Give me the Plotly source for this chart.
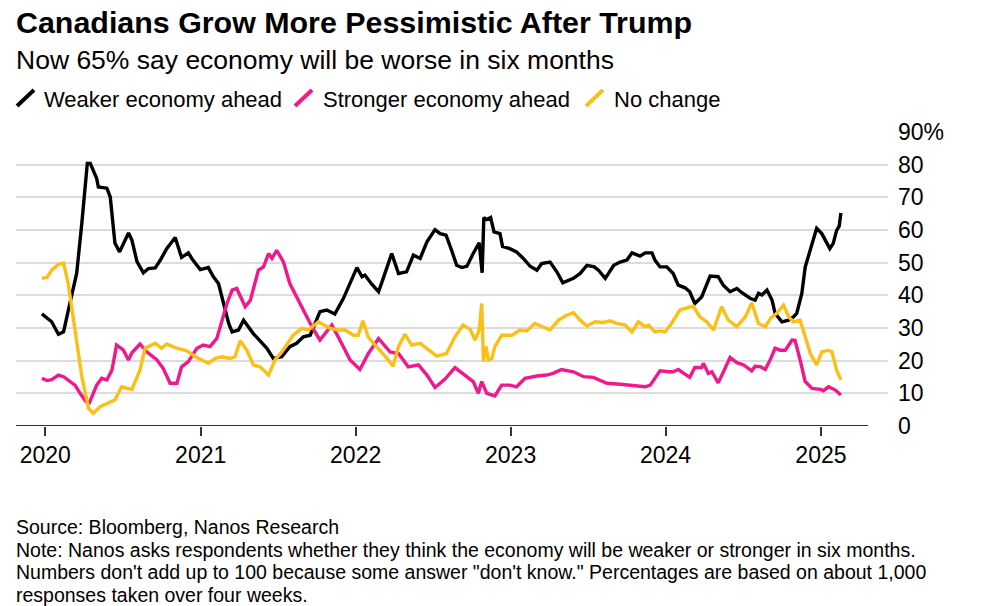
import plotly.graph_objects as go
import pandas as pd

# ---------------- data ----------------
weaker_dates = ["2019-12-24","2020-01-16","2020-02-01","2020-02-13","2020-02-28","2020-03-15","2020-03-27","2020-04-09","2020-04-16","2020-05-01","2020-05-05","2020-05-25","2020-06-02","2020-06-13","2020-06-24","2020-07-15","2020-07-23","2020-08-04","2020-08-19","2020-08-31","2020-09-16","2020-09-28","2020-10-13","2020-11-02","2020-11-17","2020-12-03","2020-12-11","2020-12-31","2021-01-19","2021-01-31","2021-02-12","2021-03-08","2021-03-16","2021-03-31","2021-04-12","2021-05-05","2021-06-06","2021-06-21","2021-07-11","2021-07-30","2021-08-15","2021-08-31","2021-09-16","2021-10-09","2021-10-25","2021-11-13","2021-12-03","2021-12-23","2022-01-04","2022-01-16","2022-01-23","2022-02-08","2022-02-24","2022-03-07","2022-03-27","2022-04-12","2022-05-01","2022-05-17","2022-06-02","2022-06-18","2022-07-07","2022-07-19","2022-08-02","2022-08-15","2022-08-27","2022-09-08","2022-09-20","2022-10-05","2022-10-19","2022-10-26","2022-10-30","2022-11-06","2022-11-15","2022-11-23","2022-12-07","2022-12-13","2022-12-30","2023-01-15","2023-01-31","2023-02-16","2023-03-04","2023-03-15","2023-04-04","2023-04-20","2023-05-04","2023-05-29","2023-06-14","2023-06-30","2023-07-17","2023-07-27","2023-08-12","2023-09-01","2023-09-16","2023-10-02","2023-10-14","2023-11-02","2023-11-14","2023-11-30","2023-12-07","2023-12-19","2024-01-04","2024-01-19","2024-01-31","2024-02-16","2024-02-27","2024-03-10","2024-03-26","2024-04-15","2024-05-04","2024-05-16","2024-06-01","2024-06-17","2024-06-29","2024-07-18","2024-07-30","2024-08-07","2024-08-15","2024-08-27","2024-09-08","2024-09-15","2024-10-01","2024-10-17","2024-10-28","2024-11-05","2024-11-17","2024-11-25","2024-12-11","2024-12-22","2025-01-03","2025-01-22","2025-01-30","2025-02-07","2025-02-13","2025-02-17"]
weaker_values = [34.3,31.9,28.1,28.8,37.6,46.8,62.0,80.4,80.4,75.8,73.2,72.8,70.1,56.0,53.3,59.1,56.9,50.3,46.9,48.2,48.4,50.8,54.3,57.7,51.6,53.0,51.3,47.9,48.5,45.7,43.6,31.4,28.8,29.4,32.4,28.3,23.8,20.7,21.2,24.3,25.3,27.3,27.8,35.0,35.5,34.3,39.0,45.2,48.5,45.7,46.2,43.4,41.1,45.2,52.8,46.7,47.2,52.3,51.3,56.4,60.1,58.9,58.4,53.8,49.2,48.5,48.9,52.8,56.1,46.9,63.8,63.2,63.8,59.4,58.9,55.0,54.3,53.3,51.3,48.9,47.7,49.7,50.2,47.2,43.8,45.2,46.7,49.2,48.7,47.7,45.2,49.2,50.2,50.8,53.0,52.0,53.0,53.0,50.8,48.7,48.7,46.7,43.1,42.3,41.1,37.5,39.5,45.9,45.7,43.1,41.1,42.1,40.8,39.1,38.5,40.6,40.1,41.6,38.5,34.5,31.9,32.4,33.4,34.5,40.6,48.7,55.9,60.5,58.9,54.3,55.9,59.9,61.2,65.2]

stronger_dates = ["2019-12-24","2020-01-05","2020-01-16","2020-02-01","2020-02-13","2020-02-28","2020-03-11","2020-03-23","2020-04-06","2020-04-14","2020-05-01","2020-05-13","2020-05-25","2020-06-06","2020-06-17","2020-07-03","2020-07-15","2020-07-23","2020-08-11","2020-08-27","2020-09-20","2020-10-05","2020-10-21","2020-11-06","2020-11-17","2020-12-03","2020-12-23","2021-01-07","2021-01-23","2021-02-08","2021-03-04","2021-03-16","2021-03-27","2021-04-16","2021-04-28","2021-05-17","2021-05-29","2021-06-10","2021-06-18","2021-06-29","2021-07-15","2021-07-30","2021-08-23","2021-09-20","2021-10-09","2021-11-06","2021-11-25","2021-12-19","2022-01-11","2022-01-31","2022-02-24","2022-03-23","2022-04-12","2022-05-05","2022-05-29","2022-06-18","2022-07-07","2022-07-30","2022-08-23","2022-09-11","2022-10-05","2022-10-17","2022-10-25","2022-11-06","2022-11-25","2022-12-11","2022-12-30","2023-01-15","2023-02-04","2023-03-04","2023-03-27","2023-04-11","2023-05-01","2023-05-29","2023-06-22","2023-07-15","2023-08-16","2023-09-16","2023-10-18","2023-11-14","2023-11-26","2023-12-07","2023-12-19","2024-01-08","2024-01-19","2024-01-31","2024-02-12","2024-02-27","2024-03-10","2024-03-26","2024-03-30","2024-04-11","2024-04-19","2024-05-04","2024-05-20","2024-06-01","2024-06-17","2024-07-03","2024-07-22","2024-07-30","2024-08-11","2024-08-23","2024-09-04","2024-09-15","2024-09-27","2024-10-09","2024-10-25","2024-11-01","2024-11-13","2024-11-25","2024-12-11","2024-12-31","2025-01-07","2025-01-19","2025-02-04","2025-02-17"]
stronger_values = [14.6,13.9,14.2,15.6,15.1,13.6,12.5,10.0,7.4,7.1,12.5,14.6,14.1,17.1,24.8,23.2,20.2,22.4,25.1,22.7,20.2,17.6,13.1,13.1,18.1,19.7,23.8,24.8,24.3,26.8,37.5,41.6,42.1,36.5,38.5,47.7,48.7,52.8,51.3,53.8,50.2,43.6,37.5,30.4,26.3,30.9,26.3,20.2,17.3,22.2,26.8,22.7,22.2,18.1,18.7,15.6,11.8,14.3,17.9,16.1,13.6,10.0,13.6,10.0,9.2,12.5,12.5,12.0,14.6,15.3,15.6,16.1,17.3,16.6,15.1,14.9,13.1,12.8,12.5,12.0,12.5,14.6,16.9,16.6,16.6,17.3,16.1,14.9,17.9,17.9,19.2,16.1,16.6,13.2,17.6,21.0,19.4,18.7,16.9,18.3,18.2,17.3,20.4,23.8,23.2,23.2,26.3,26.2,20.2,13.6,11.5,11.2,10.8,12.0,11.0,9.5]

nochange_dates = ["2019-12-24","2020-01-05","2020-01-16","2020-02-01","2020-02-13","2020-02-24","2020-03-11","2020-03-27","2020-04-12","2020-04-23","2020-05-09","2020-05-25","2020-06-13","2020-06-29","2020-07-23","2020-08-11","2020-08-23","2020-09-16","2020-10-01","2020-10-13","2020-11-06","2020-11-29","2020-12-23","2021-01-19","2021-02-04","2021-02-20","2021-03-11","2021-03-23","2021-04-04","2021-04-20","2021-05-05","2021-05-21","2021-06-10","2021-06-25","2021-07-11","2021-08-07","2021-08-27","2021-09-12","2021-10-05","2021-11-02","2021-11-21","2021-12-07","2021-12-27","2022-01-07","2022-01-18","2022-01-31","2022-02-24","2022-03-16","2022-03-30","2022-04-12","2022-04-27","2022-05-13","2022-06-02","2022-06-22","2022-07-11","2022-08-03","2022-08-23","2022-09-11","2022-09-28","2022-10-09","2022-10-19","2022-10-25","2022-10-29","2022-11-04","2022-11-10","2022-11-18","2022-11-25","2022-12-11","2023-01-04","2023-01-23","2023-02-08","2023-02-27","2023-03-19","2023-04-04","2023-04-24","2023-05-13","2023-05-29","2023-06-14","2023-06-30","2023-07-19","2023-08-08","2023-08-23","2023-09-08","2023-09-28","2023-10-14","2023-10-29","2023-11-14","2023-11-22","2023-12-07","2023-12-19","2023-12-31","2024-01-15","2024-02-04","2024-02-20","2024-03-06","2024-03-22","2024-04-07","2024-04-23","2024-05-12","2024-05-28","2024-06-17","2024-07-07","2024-07-22","2024-08-07","2024-08-23","2024-09-04","2024-09-19","2024-10-05","2024-10-17","2024-10-28","2024-11-13","2024-11-25","2024-12-07","2024-12-22","2025-01-03","2025-01-19","2025-01-27","2025-02-07","2025-02-17"]
nochange_values = [45.2,45.5,47.7,49.5,49.9,43.6,29.4,15.1,5.4,3.9,5.9,6.9,8.0,12.0,11.2,17.1,23.8,25.3,23.8,25.1,23.8,23.0,21.0,19.2,20.7,21.2,20.7,21.2,26.1,23.2,18.7,18.1,15.6,20.2,22.7,27.8,29.9,29.4,31.9,29.9,29.4,29.4,27.8,27.8,32.2,27.1,23.8,20.7,18.3,24.3,28.1,24.8,25.3,23.2,21.4,22.2,27.3,30.9,29.6,26.3,29.4,37.5,19.7,24.3,20.2,20.7,24.3,27.8,27.8,29.4,29.1,31.4,30.4,29.4,32.4,33.9,34.7,32.4,30.6,31.9,31.7,32.2,31.4,30.9,28.8,31.9,30.4,30.9,28.8,29.1,28.8,31.4,35.5,36.0,36.7,33.4,31.9,29.4,36.5,32.4,30.4,33.4,37.7,31.4,30.4,32.9,34.5,37.0,33.4,31.9,32.4,27.3,22.2,18.7,22.7,23.2,22.7,17.1,14.1]

series_names = ["Weaker economy ahead", "Stronger economy ahead", "No change"]
series_colors = ["#000000", "#f0188c", "#fbbf16"]

year_ticks = ["2020-01-01", "2021-01-01", "2022-01-01", "2023-01-01", "2024-01-01", "2025-01-01"]
year_labels = ["2020", "2021", "2022", "2023", "2024", "2025"]
y_ticks = [0, 10, 20, 30, 40, 50, 60, 70, 80, 90]
y_labels = ["0", "10", "20", "30", "40", "50", "60", "70", "80", "90%"]

title = "Canadians Grow More Pessimistic After Trump"
subtitle = "Now 65% say economy will be worse in six months"
footnote_lines = [
    "Source: Bloomberg, Nanos Research",
    "Note: Nanos asks respondents whether they think the economy will be weaker or stronger in six months.",
    "Numbers don't add up to 100 because some answer \"don't know.\" Percentages are based on about 1,000",
    "responses taken over four weeks.",
]

# ---------------- layout geometry (pixels) ----------------
W, H = 986, 606
L, R, T, B = 16, 888, 132, 426
FONT = "Liberation Sans, Arial, Helvetica, sans-serif"

def px(x):
    return (x - L) / (R - L)

def py(y):
    return (B - y) / (B - T)

fig = go.Figure()
for d, v, n, c in zip([weaker_dates, stronger_dates, nochange_dates],
                      [weaker_values, stronger_values, nochange_values],
                      series_names, series_colors):
    fig.add_trace(go.Scatter(x=pd.to_datetime(d), y=v, name=n, mode="lines",
                             line=dict(color=c, width=3.4), showlegend=False))

fig.update_layout(
    width=W, height=H,
    margin=dict(l=L, r=W - R, t=T, b=H - B, pad=0),
    paper_bgcolor="white", plot_bgcolor="white",
    font=dict(family=FONT, color="#000000"),
    xaxis=dict(type="date", range=["2019-10-24", "2025-06-08"],
               tickvals=year_ticks, ticktext=year_labels,
               ticks="outside", ticklen=9, tickwidth=1.5, tickcolor="#333333",
               showgrid=False, zeroline=False, showline=False,
               tickfont=dict(size=23, color="#000000"), ticklabelstandoff=-1),
    yaxis=dict(range=[0, 90], side="right", tickvals=y_ticks, ticktext=y_labels,
               showgrid=True, gridcolor="#dcdcdc", gridwidth=1.5,
               zeroline=False, showline=False, ticks="",
               tickfont=dict(size=23, color="#000000"), ticklabelstandoff=9),
)

# x-axis baseline (stops short of the right edge, as in the original)
fig.add_shape(type="line", xref="paper", yref="y", x0=0, x1=px(868), y0=0, y1=0,
              line=dict(color="#333333", width=1.8), layer="above")
fig.add_shape(type="line", xref="paper", yref="y", x0=px(868.5), x1=px(879.5), y0=0, y1=0,
              line=dict(color="white", width=3), layer="above")

# title / subtitle
fig.add_annotation(text="<b>" + title + "</b>", xref="paper", yref="paper",
                   x=px(14), y=py(22), xanchor="left", yanchor="middle",
                   showarrow=False, font=dict(size=30.4, family=FONT, color="#000000"))
fig.add_annotation(text=subtitle, xref="paper", yref="paper",
                   x=px(14), y=py(60), xanchor="left", yanchor="middle",
                   showarrow=False, font=dict(size=26.5, family=FONT, color="#000000"))

# legend: slash glyphs + labels
slash_x = [17, 295, 586]
text_x = [42, 321, 612]
for n, c, sx, tx in zip(series_names, series_colors, slash_x, text_x):
    fig.add_shape(type="line", xref="paper", yref="paper",
                  x0=px(sx), x1=px(sx + 17), y0=py(106), y1=py(90),
                  line=dict(color=c, width=4))
    fig.add_annotation(text=n, xref="paper", yref="paper", x=px(tx), y=py(99),
                       xanchor="left", yanchor="middle", showarrow=False,
                       font=dict(size=22, family=FONT, color="#000000"))

# footnote lines
foot_y = [526.5, 549.5, 572, 595]
for line, fy in zip(footnote_lines, foot_y):
    fig.add_annotation(text=line, xref="paper", yref="paper", align="left",
                       x=px(14), y=py(fy), xanchor="left", yanchor="middle",
                       showarrow=False, font=dict(size=19.5, family=FONT, color="#000000"))

fig.write_html("out.html")
